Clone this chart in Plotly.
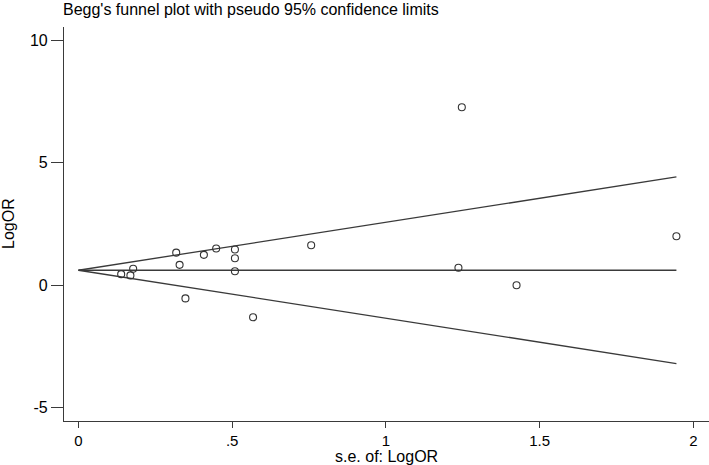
import plotly.graph_objects as go

# Study-level standard errors and log odds ratios
se = [0.139, 0.169, 0.178, 0.318, 0.329, 0.348, 0.408, 0.448, 0.509, 0.509, 0.509,
      0.568, 0.757, 1.236, 1.247, 1.425, 1.945]
logor = [0.45, 0.40, 0.67, 1.33, 0.83, -0.54, 1.24, 1.50, 1.46, 1.10, 0.57,
         -1.31, 1.63, 0.71, 7.27, 0.00, 2.00]
pooled = 0.61
z = 1.96

x_ticks = [0, 0.5, 1, 1.5, 2]
x_tick_labels = ["0", ".5", "1", "1.5", "2"]
y_ticks = [-5, 0, 5, 10]
y_tick_labels = ["-5", "0", "5", "10"]

se_max = max(se)
line_x = [0, se_max]

FONT = "Liberation Sans, Arial, sans-serif"
LINE = "#3a3a3a"

fig = go.Figure()
fig.add_trace(go.Scatter(x=line_x, y=[pooled, pooled], mode="lines",
                         line=dict(color=LINE, width=1.3), hoverinfo="skip"))
fig.add_trace(go.Scatter(x=line_x, y=[pooled, pooled + z * se_max], mode="lines",
                         line=dict(color=LINE, width=1.3), hoverinfo="skip"))
fig.add_trace(go.Scatter(x=line_x, y=[pooled, pooled - z * se_max], mode="lines",
                         line=dict(color=LINE, width=1.3), hoverinfo="skip"))
fig.add_trace(go.Scatter(x=se, y=logor, mode="markers",
                         marker=dict(symbol="circle-open", size=7, color="#333333",
                                     line=dict(width=1.1, color="#333333"))))

fig.update_layout(
    width=709, height=465,
    margin=dict(l=64, r=0, t=27, b=44, autoexpand=False),
    paper_bgcolor="white", plot_bgcolor="white",
    showlegend=False,
    font=dict(family=FONT, color="black", size=16),
    title=dict(text="Begg's funnel plot with pseudo 95% confidence limits",
               x=63 / 709, xanchor="left", xref="container",
               y=1 - 9 / 465, yanchor="middle", yref="container",
               font=dict(size=16, family=FONT, color="black")),
    annotations=[
        dict(text="s.e. of: LogOR", xref="paper", yref="paper", x=0.5, y=0,
             xanchor="center", yanchor="middle", yshift=-35, showarrow=False,
             font=dict(size=16, family=FONT, color="black")),
        dict(text="LogOR", xref="paper", yref="paper", x=0, y=0.5,
             xanchor="center", yanchor="middle", xshift=-56, textangle=-90,
             showarrow=False, font=dict(size=16, family=FONT, color="black")),
    ],
)
fig.update_xaxes(range=[-0.047, 2.051], tickvals=x_ticks, ticktext=x_tick_labels,
                 showgrid=False, zeroline=False, showline=True, linecolor=LINE,
                 linewidth=1.2, ticks="outside", ticklen=6, tickcolor=LINE,
                 tickwidth=1.2, tickfont=dict(size=15), automargin=False)
fig.update_yaxes(range=[-5.55, 10.55], tickvals=y_ticks, ticktext=y_tick_labels,
                 showgrid=False, zeroline=False, showline=True, linecolor=LINE,
                 linewidth=1.2, ticks="outside", ticklen=12, tickcolor=LINE,
                 tickwidth=1.2, tickfont=dict(size=16), tickangle=0, automargin=False)

fig.write_html("out.html", config={"displayModeBar": False},
               post_script="document.body.style.margin='0';document.body.style.overflow='hidden';")
